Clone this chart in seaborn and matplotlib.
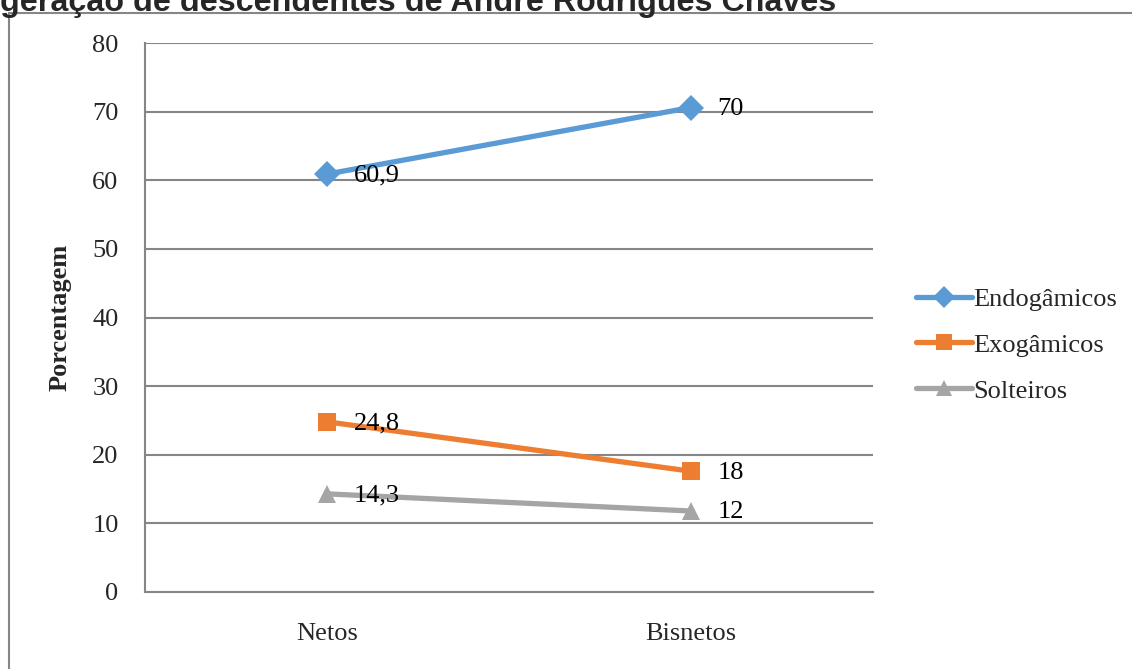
import matplotlib
matplotlib.use("Agg")
import matplotlib.pyplot as plt
import seaborn as sns
import pandas as pd
from matplotlib.patches import Rectangle

# Valeurs
geracoes = ["Netos", "Bisnetos"]
series = ["Endogâmicos", "Exogâmicos", "Solteiros"]
endogamicos = [60.9, 70.6]
exogamicos = [24.8, 17.6]
solteiros = [14.3, 11.8]
rotulos = {
    "Endogâmicos": ["60,9", "70"],
    "Exogâmicos": ["24,8", "18"],
    "Solteiros": ["14,3", "12"],
}
titulo = "geração de descendentes de André Rodrigues Chaves"
y_ticks = [0, 10, 20, 30, 40, 50, 60, 70, 80]

df = pd.DataFrame({
    "geracao": geracoes * 3,
    "serie": [s for s in series for _ in geracoes],
    "valor": endogamicos + exogamicos + solteiros,
})

cores = {"Endogâmicos": "#5B9BD5", "Exogâmicos": "#ED7D31", "Solteiros": "#A5A5A5"}
marcadores = {"Endogâmicos": "D", "Exogâmicos": "s", "Solteiros": "^"}

sns.set_style("white")
plt.rcParams["font.family"] = ["Liberation Serif", "DejaVu Serif"]

fig = plt.figure(figsize=(11.32, 6.69), dpi=100)
ax = fig.add_axes([145 / 1132, 1 - 592 / 669, 728 / 1132, 549 / 669])

sns.lineplot(data=df, x="geracao", y="valor", hue="serie", style="serie",
             palette=cores, markers=marcadores, dashes=False, linewidth=3.8,
             markersize=13, markeredgewidth=0, ax=ax, sort=False)

# rotulos de dados a direita de cada ponto
for s in series:
    vals = df[df["serie"] == s]["valor"].tolist()
    for i, (v, txt) in enumerate(zip(vals, rotulos[s])):
        ax.annotate(txt, (i, v), xytext=(19, -1), textcoords="offset points",
                    ha="left", va="center", fontsize=19, color="black")

ax.set_xlim(-0.5, 1.5)
ax.set_ylim(0, 80)
ax.set_yticks(y_ticks)
ax.grid(axis="y", color="#868686", linewidth=1.5)
ax.grid(axis="x", visible=False)
for lado in ["top", "right"]:
    ax.spines[lado].set_visible(False)
for lado in ["left", "bottom"]:
    ax.spines[lado].set_color("#868686")
    ax.spines[lado].set_linewidth(1.5)
ax.tick_params(axis="y", length=0, pad=19, labelsize=19)
ax.tick_params(axis="x", length=0, pad=22, labelsize=19)
ax.set_xlabel("")
ax.set_ylabel("Porcentagem", fontsize=19, fontweight="bold", labelpad=15)

handles, labels = ax.get_legend_handles_labels()
ax.legend(handles, labels, loc="center left", bbox_to_anchor=(1.027, 0.45),
          frameon=False, fontsize=19, handlelength=2.1, handletextpad=0.05,
          labelspacing=0.85, markerscale=0.9)

# cadre exterieur du graphique
fig.patches.append(Rectangle((9 / 1132, -0.05), 1.1, 1 - 13 / 669 + 0.05,
                             transform=fig.transFigure, fill=False,
                             edgecolor="#868686", linewidth=1.5))

fig.text(0, 1 - 11 / 669, titulo, ha="left", va="baseline", fontsize=23.2,
         fontweight="bold", family=["Liberation Sans", "DejaVu Sans"])

fig.savefig("out.png", dpi=100)
